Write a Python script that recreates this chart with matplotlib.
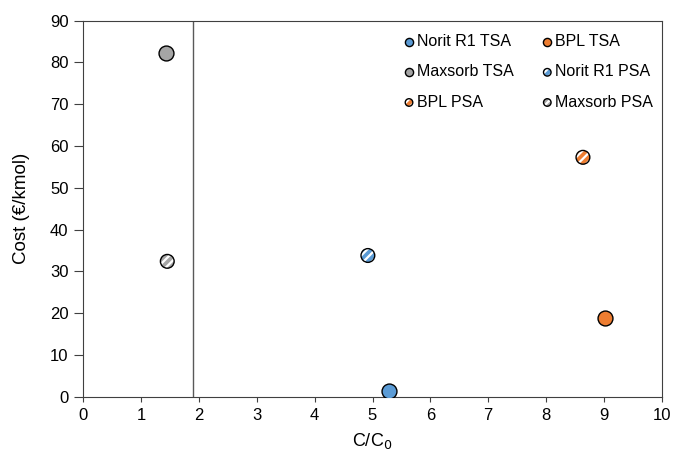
import matplotlib.pyplot as plt
from matplotlib.legend_handler import HandlerTuple

plt.rcParams['font.family'] = ['Liberation Sans', 'DejaVu Sans']
plt.rcParams['hatch.linewidth'] = 1.6

# data
labels = ['Norit R1 TSA', 'BPL TSA', 'Maxsorb TSA', 'Norit R1 PSA', 'BPL PSA', 'Maxsorb PSA']
ratio = [5.29, 9.03, 1.43, 4.92, 8.64, 1.45]
cost = [1.4, 18.9, 82.2, 33.8, 57.3, 32.4]
colors = ['#5B9BD5', '#ED7D31', '#A5A5A5', '#5B9BD5', '#ED7D31', '#A5A5A5']
hatched = [False, False, False, True, True, True]
x_limit = 1.9

fig = plt.figure(figsize=(6.73, 4.51), dpi=100)
ax = fig.add_axes([0.124, 0.1204, 0.859, 0.8337])

handles = []
for lab, x, y, c, h in zip(labels, ratio, cost, colors, hatched):
    size = 115 if not h else 98
    if h:
        fill = ax.scatter([x], [y], s=size, facecolor=c, edgecolor='white',
                          hatch='////', linewidths=0, zorder=3)
        edge = ax.scatter([x], [y], s=size, facecolor='none', edgecolor='black',
                          linewidths=1.0, zorder=4)
        handles.append((fill, edge))
    else:
        pt = ax.scatter([x], [y], s=size, facecolor=c, edgecolor='black',
                        linewidths=1.0, zorder=3)
        handles.append(pt)

ax.axvline(x_limit, color='#595959', lw=1.0, zorder=2)

ax.set_xlim(0, 10)
ax.set_ylim(0, 90)
ax.set_xticks(range(0, 11))
ax.set_yticks(range(0, 91, 10))
ax.tick_params(labelsize=12, direction='out', colors='#404040', labelcolor='black')
ax.tick_params(axis='x', length=3.6, pad=4.7)
ax.tick_params(axis='y', length=6.5, pad=4.3)
for s in ax.spines.values():
    s.set_color('#404040')
ax.set_xlabel('C/C$_0$', fontsize=13, labelpad=5.5)
ax.set_ylabel('Cost (€/kmol)', fontsize=13.5, labelpad=14)

# legend is filled row by row in the reference
order = [0, 2, 4, 1, 3, 5]
leg = ax.legend([handles[i] for i in order], [labels[i] for i in order], ncol=2,
                frameon=False, fontsize=11.5,
                loc='upper left', bbox_to_anchor=(0.53, 1.002),
                handler_map={tuple: HandlerTuple(ndivide=1, pad=0)},
                handlelength=0.6, handletextpad=0.2, columnspacing=1.8,
                labelspacing=0.95, scatterpoints=1, markerscale=0.55)

fig.savefig('out.png', dpi=100)
